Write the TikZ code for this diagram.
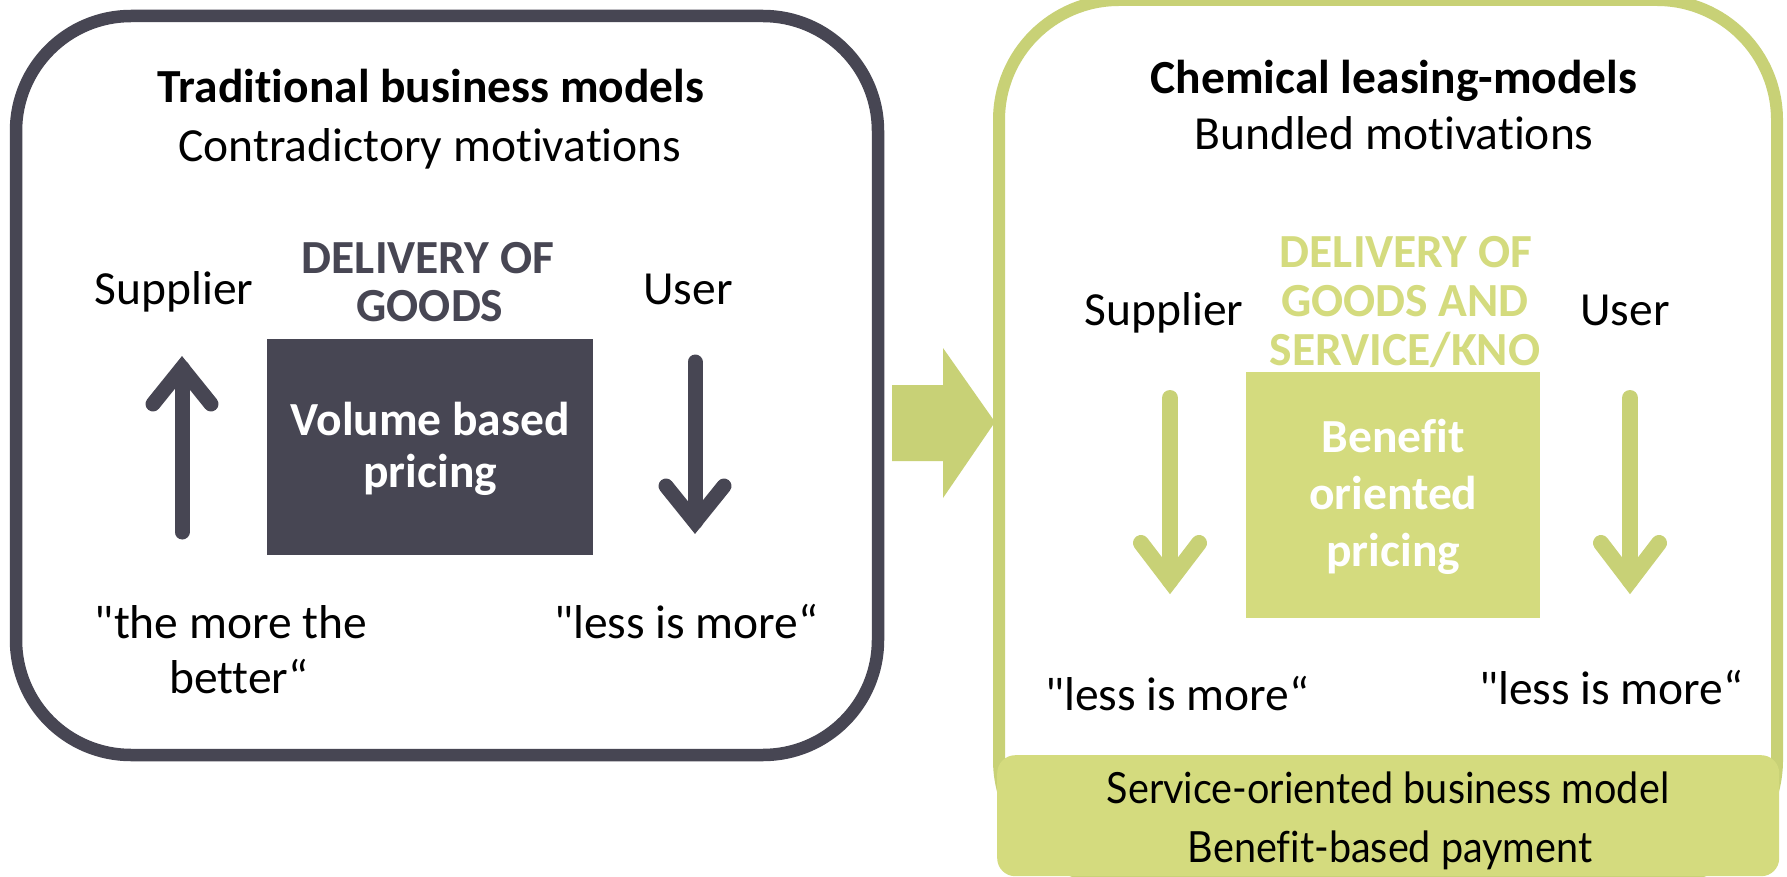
\documentclass[tikz,border=0pt]{standalone}
\usepackage{fontspec}
\setmainfont{Carlito}[Ligatures={NoCommon,TeXOff}]
\newfontfamily\footfont{Lato}[FakeStretch=0.92, Ligatures={NoCommon}]
\definecolor{slate}{HTML}{474653}
\definecolor{leaf}{HTML}{C8D176}
\definecolor{leaffill}{HTML}{D4DB7E}
\begin{document}
\begin{tikzpicture}[x=1pt,y=-1pt,
  txt/.style={anchor=base, inner sep=0pt, font=\fontsize{47.5}{57}\selectfont},
  bold/.style={txt, font=\fontsize{47.5}{57}\selectfont\bfseries},
  foot/.style={anchor=base, inner sep=0pt, font=\footfont\fontsize{43}{50}\selectfont},
  darkarrow/.style={draw=slate, line width=15pt, line cap=round, line join=miter},
  leafarrow/.style={draw=leaf, line width=16pt, line cap=round, line join=miter},
  panel/.style={line width=12.5pt},
  block/.style={inner sep=0pt, anchor=north west}]
\useasboundingbox (0,0) rectangle (1787,877);
\fill[white] (0,0) rectangle (1787,877);
\clip (0,0) rectangle (1787,877);

% ---------- left panel: traditional models ----------
\draw[panel, slate, rounded corners=115pt] (16,16) rectangle (878,755);
\node[bold] (tradTitle) at (431,103) {Traditional business models};
\node[txt] (tradSub) at (430,162) {Contradictory motivations};
\node[bold, text=slate] (delivA1) at (428,273) {DELIVERY OF};
\node[bold, text=slate] (delivA2) at (430,321) {GOODS};
\node[txt] (supA) at (174,304) {Supplier};
\node[txt] (userA) at (688,304) {User};
\node[block, fill=slate, minimum width=326pt, minimum height=216pt] (volBox) at (267,339) {};
\node[bold, text=white] (volA) at (volBox.center |- 0,435) {Volume based};
\node[bold, text=white] (volB) at (volBox.center |- 0,487) {pricing};

\coordinate (upTail) at (182,532);
\coordinate (upTip) at (182,368);
\draw[darkarrow] (upTail) -- (upTip);
\draw[darkarrow] (upTip) ++(-29,36) -- (upTip) -- ++(29,36);

\coordinate (dnTail) at (695,362);
\coordinate (dnTip) at (695,522);
\draw[darkarrow] (dnTail) -- (dnTip);
\draw[darkarrow] (dnTip) ++(-29,-36) -- (dnTip) -- ++(29,-36);

\node[txt] (moreA) at (231,638) {"the more the};
\node[txt] (moreB) at (239,693) {better“};
\node[txt] (lessA) at (686,638) {"less is more“};

% ---------- transition arrow ----------
\fill[leaf] (892,385) -- (943,385) -- (943,348) -- (995,422) -- (943,498)
  -- (943,461) -- (892,461) -- cycle;

% ---------- right panel: chemical leasing ----------
\draw[panel, leaf, line width=12pt, rounded corners=120pt] (999,0) rectangle (1777,880);
\node[bold] (chemTitle) at (1394,94) {Chemical leasing-models};
\node[txt] (chemSub) at (1394,150) {Bundled motivations};
\node[bold, text=leaffill] (delivB1) at (1406,268) {DELIVERY OF};
\node[bold, text=leaffill] (delivB2) at (1405,316) {GOODS AND};
\node[bold, text=leaffill] (delivB3) at (1405,365) {SERVICE/KNO};
\node[txt] (supB) at (1164,325) {Supplier};
\node[txt] (userB) at (1625,325) {User};
\node[block, fill=leaffill, minimum width=294pt, minimum height=246pt] (benBox) at (1246,372) {};
\node[bold, text=white] (benA) at (benBox.center |- 0,452) {Benefit};
\node[bold, text=white] (benB) at (benBox.center |- 0,509) {oriented};
\node[bold, text=white] (benC) at (benBox.center |- 0,566) {pricing};

\coordinate (supTail) at (1170,398);
\coordinate (supTip) at (1170,581);
\draw[leafarrow] (supTail) -- (supTip);
\draw[leafarrow] (supTip) ++(-29,-38) -- (supTip) -- ++(29,-38);

\coordinate (usrTail) at (1630,398);
\coordinate (usrTip) at (1630,581);
\draw[leafarrow] (usrTail) -- (usrTip);
\draw[leafarrow] (usrTip) ++(-29,-38) -- (usrTip) -- ++(29,-38);

\node[txt] (lessB) at (1177,710) {"less is more“};
\node[txt] (lessC) at (1611,704) {"less is more“};

% ---------- footer band ----------
\node[block, fill=leaffill, rounded corners=18pt, minimum width=782pt, minimum height=121pt] (footer) at (997,755) {};
\node[foot] (footA) at (1388,803) {Service-oriented business model};
\node[foot] (footB) at (1390,862) {Benefit-based payment};
\end{tikzpicture}
\end{document}
